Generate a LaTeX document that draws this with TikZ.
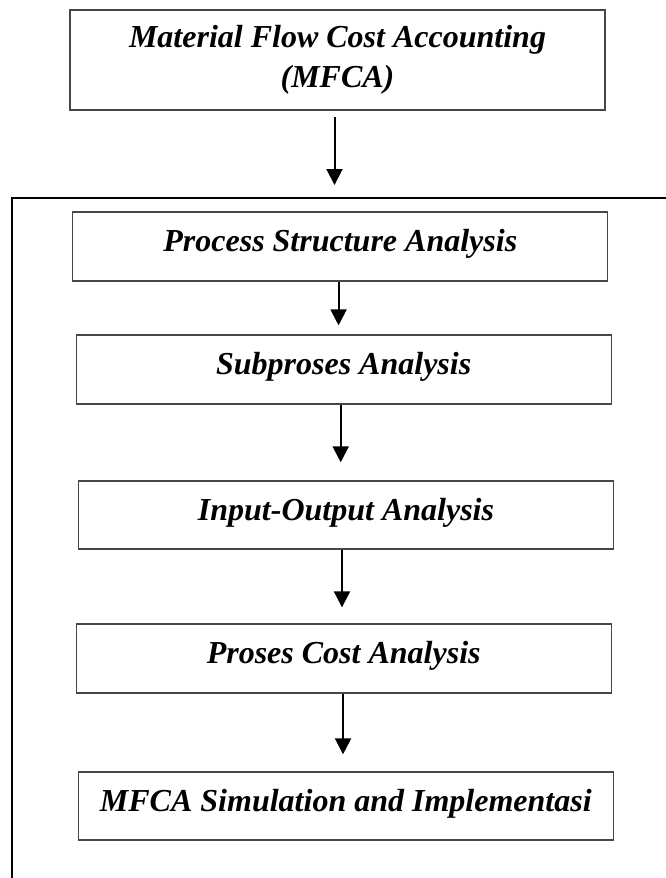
\documentclass[tikz,border=0pt]{standalone}
\usepackage{fontspec}
\setmainfont{Liberation Serif}
\usetikzlibrary{arrows.meta}
\begin{document}
% one drawing unit = 0.75pt
\begin{tikzpicture}[x=0.75pt, y=-0.75pt,
  stagebox/.style={draw=black!72, line width=1pt, minimum width=401.25pt,
    minimum height=51.75pt, inner sep=0pt, align=center,
    text height=16.5pt, text depth=9pt,
    font=\fontsize{24}{30}\selectfont\bfseries\itshape},
  titlebox/.style={stagebox, minimum height=75pt, text height=, text depth=},
  flow/.style={-{Triangle[length=12pt, width=12pt]}, line width=1.5pt, black},
  frameline/.style={line width=1.65pt, black}]
\useasboundingbox (0,0) rectangle (666,878);

\node[titlebox] (mfca) at (337.5,60)
  {Material Flow Cost Accounting\\(MFCA)};
\node[stagebox] (psa) at (340.3,246.5) {Process Structure Analysis};
\node[stagebox] (spa) at (343.7,369.5) {Subproses Analysis};
\node[stagebox, minimum height=51pt] (ioa) at (346,515) {Input-Output Analysis};
\node[stagebox] (pca) at (343.7,658.5) {Proses Cost Analysis};
\node[stagebox, minimum height=51pt] (sim) at (345.8,806) {MFCA Simulation and Implementasi};

% open frame around the analysis stages
\coordinate (fbl) at (12,878);
\coordinate (ftl) at (12,198);
\coordinate (ftr) at (666,198);
\draw[frameline] (fbl) -- (ftl) -- (ftr);

% flow arrows
\draw[flow, shorten <=4.5pt, shorten >=9.75pt] ([xshift=-2.25pt]mfca.south) -- ([xshift=-2.25pt]mfca.south |- ftl);
\draw[flow, shorten >=6.75pt] ([xshift=-1.3pt]psa.south) -- ([xshift=-1.3pt]psa.south |- spa.north);
\draw[flow, shorten >=13.5pt] ([xshift=-2.25pt]spa.south) -- ([xshift=-2.25pt]spa.south |- ioa.north);
\draw[flow, shorten >=12pt] ([xshift=-3pt]ioa.south) -- ([xshift=-3pt]ioa.south |- pca.north);
\draw[flow, shorten >=12.75pt] ([xshift=-0.5pt]pca.south) -- ([xshift=-0.5pt]pca.south |- sim.north);
\end{tikzpicture}
\end{document}
